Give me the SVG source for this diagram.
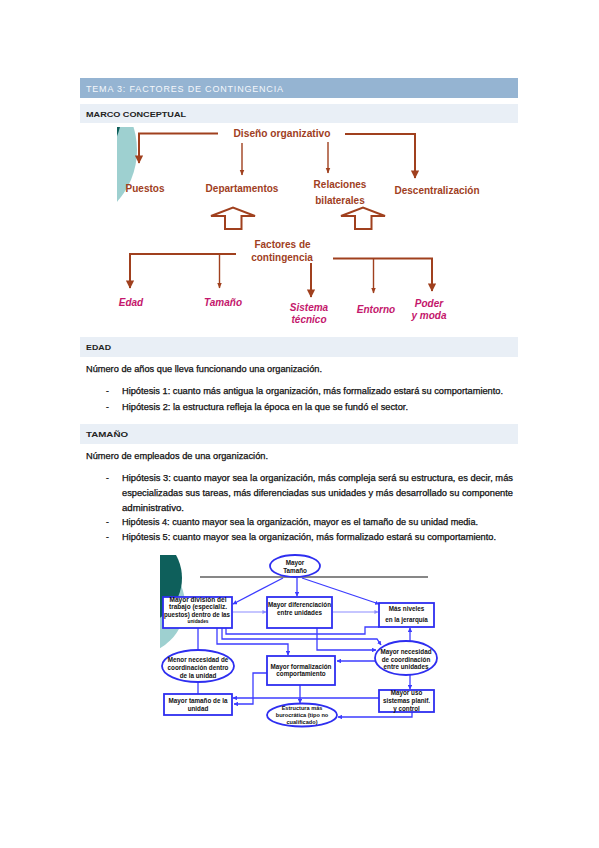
<svg xmlns="http://www.w3.org/2000/svg" width="599" height="848" viewBox="0 0 599 848">
<style>
.hdr{font-family:"Liberation Sans",Arial,sans-serif;font-size:9px;fill:#F4F7FB}
.sec{font-family:"Liberation Sans",Arial,sans-serif;font-size:8px;font-weight:bold;fill:#222}
.body{font-family:"Liberation Sans",Arial,sans-serif;font-size:8.6px;fill:#111;stroke:#111;stroke-width:0.25}
.lbl{font-family:"Liberation Sans",Arial,sans-serif;font-size:10px;font-weight:bold;fill:#A0401E;text-anchor:middle}
.fac{font-family:"Liberation Sans",Arial,sans-serif;font-size:10px;font-weight:bold;font-style:italic;fill:#C4176C;text-anchor:middle}
.br{fill:none;stroke:#A0401E}
.thick{stroke-width:2}
.thin{stroke-width:1.4}
.hollow{fill:#fff;stroke:#A0401E;stroke-width:2;stroke-linejoin:miter}
.nb{fill:#fff;stroke:#2E2EF0;stroke-width:1.8}
.nt{font-family:"Liberation Sans",Arial,sans-serif;font-size:6.3px;font-weight:bold;fill:#111;text-anchor:middle}
.bl{fill:none;stroke:#3C3CFF;stroke-width:1.3}
.lt{fill:none;stroke:#8C8CFF;stroke-width:1.1}
</style>
<defs>
<marker id="ab" viewBox="0 0 10 10" refX="9" refY="5" markerWidth="4.2" markerHeight="4.2" orient="auto" markerUnits="strokeWidth"><path d="M0,0 L10,5 L0,10 z" fill="#A0401E"/></marker>
<marker id="abs" viewBox="0 0 10 10" refX="9" refY="5" markerWidth="4.2" markerHeight="4.2" orient="auto" markerUnits="strokeWidth"><path d="M0,1 L10,5 L0,9 z" fill="#A0401E"/></marker>
<marker id="bb" viewBox="0 0 10 10" refX="9" refY="5" markerWidth="3.4" markerHeight="3.4" orient="auto" markerUnits="strokeWidth"><path d="M0,0 L10,5 L0,10 z" fill="#3C3CFF"/></marker>
<marker id="bl2" viewBox="0 0 10 10" refX="9" refY="5" markerWidth="3.6" markerHeight="3.6" orient="auto" markerUnits="strokeWidth"><path d="M0,0 L10,5 L0,10 z" fill="#8C8CFF"/></marker>
<clipPath id="c1"><rect x="117" y="127" width="40" height="90"/></clipPath>
<clipPath id="c2"><rect x="160" y="555" width="40" height="100"/></clipPath>
</defs>
<rect width="599" height="848" fill="#fff"/>

<!-- headers -->
<rect x="80" y="78" width="438" height="20" fill="#95B4D2"/>
<text class="hdr" x="86" y="91.5" textLength="197" lengthAdjust="spacing">TEMA 3: FACTORES DE CONTINGENCIA</text>
<rect x="80" y="104" width="438" height="19" fill="#E9EFF6"/>
<text class="sec" x="86" y="116.5" textLength="100" lengthAdjust="spacingAndGlyphs">MARCO CONCEPTUAL</text>

<!-- decoration 1 -->
<g clip-path="url(#c1)">
<circle cx="60" cy="150" r="77" fill="#9ED0D0"/>
<circle cx="50" cy="110" r="72" fill="#0E5F5B"/>
</g>

<!-- diagram 1 connectors -->
<g id="connectors1">
<polyline class="br thick" points="218,133.5 139,133.5 139,163" marker-end="url(#ab)"/>
<line class="br thin" x1="242" y1="143" x2="242" y2="175" marker-end="url(#abs)"/>
<line class="br thin" x1="328" y1="142" x2="328" y2="173" marker-end="url(#abs)"/>
<polyline class="br thick" points="345,134 415,134 415,178" marker-end="url(#ab)"/>
<polygon class="hollow" points="225,229 225,216 211,216 233,207.5 255,216 241.5,216 241.5,229"/>
<polygon class="hollow" points="355,229 355,216 341,216 363,207.5 385,216 371.5,216 371.5,229"/>
<polyline class="br thick" points="236,254 130,254 130,288" marker-end="url(#ab)"/>
<line class="br thin" x1="219.5" y1="254" x2="219.5" y2="288" marker-end="url(#abs)"/>
<line class="br thick" x1="311" y1="263" x2="311" y2="297" marker-end="url(#ab)"/>
<polyline class="br thick" points="333,258.5 432,258.5 432,291" marker-end="url(#ab)"/>
<line class="br thin" x1="373.5" y1="258.5" x2="373.5" y2="293" marker-end="url(#abs)"/>
</g>

<!-- diagram 1 nodes -->
<g id="n-diseno"><text class="lbl" x="282" y="137" textLength="97" lengthAdjust="spacingAndGlyphs">Diseño organizativo</text></g>
<g id="n-puestos"><text class="lbl" x="145" y="192">Puestos</text></g>
<g id="n-departamentos"><text class="lbl" x="242" y="192">Departamentos</text></g>
<g id="n-relaciones"><text class="lbl" x="340" y="188">Relaciones</text><text class="lbl" x="340" y="204">bilaterales</text></g>
<g id="n-descentralizacion"><text class="lbl" x="437" y="194">Descentralización</text></g>
<g id="n-factores"><text class="lbl" x="282.5" y="248">Factores de</text><text class="lbl" x="282" y="260.5">contingencia</text></g>
<g id="n-edad"><text class="fac" x="131" y="306">Edad</text></g>
<g id="n-tamano"><text class="fac" x="223" y="306">Tamaño</text></g>
<g id="n-sistema"><text class="fac" x="309" y="311">Sistema</text><text class="fac" x="309" y="323">técnico</text></g>
<g id="n-entorno"><text class="fac" x="376" y="313">Entorno</text></g>
<g id="n-poder"><text class="fac" x="429" y="307">Poder</text><text class="fac" x="429" y="319">y moda</text></g>

<!-- EDAD -->
<rect x="80" y="337" width="438" height="20" fill="#E9EFF6"/>
<text class="sec" x="86" y="350" textLength="25" lengthAdjust="spacingAndGlyphs">EDAD</text>
<text class="body" x="86" y="372" textLength="236" lengthAdjust="spacingAndGlyphs">Número de años que lleva funcionando una organización.</text>
<text class="body" x="106" y="394">-</text>
<text class="body" x="122" y="394" textLength="381" lengthAdjust="spacingAndGlyphs">Hipótesis 1: cuanto más antigua la organización, más formalizado estará su comportamiento.</text>
<text class="body" x="106" y="410">-</text>
<text class="body" x="122" y="410" textLength="286" lengthAdjust="spacingAndGlyphs">Hipótesis 2: la estructura refleja la época en la que se fundó el sector.</text>

<!-- TAMAÑO -->
<rect x="80" y="424" width="438" height="20" fill="#E9EFF6"/>
<text class="sec" x="86" y="437" textLength="42" lengthAdjust="spacingAndGlyphs">TAMAÑO</text>
<text class="body" x="86" y="459" textLength="182" lengthAdjust="spacingAndGlyphs">Número de empleados de una organización.</text>
<text class="body" x="106" y="481">-</text>
<text class="body" x="122" y="481" textLength="391" lengthAdjust="spacingAndGlyphs">Hipótesis 3: cuanto mayor sea la organización, más compleja será su estructura, es decir, más</text>
<text class="body" x="122" y="496" textLength="391" lengthAdjust="spacingAndGlyphs">especializadas sus tareas, más diferenciadas sus unidades y más desarrollado su componente</text>
<text class="body" x="122" y="511" textLength="62" lengthAdjust="spacingAndGlyphs">administrativo.</text>
<text class="body" x="106" y="525">-</text>
<text class="body" x="122" y="525" textLength="356" lengthAdjust="spacingAndGlyphs">Hipótesis 4: cuanto mayor sea la organización, mayor es el tamaño de su unidad media.</text>
<text class="body" x="106" y="540">-</text>
<text class="body" x="122" y="540" textLength="374" lengthAdjust="spacingAndGlyphs">Hipótesis 5: cuanto mayor sea la organización, más formalizado estará su comportamiento.</text>

<!-- decoration 2 -->
<g clip-path="url(#c2)">
<circle cx="135" cy="605" r="50" fill="#9ED0D0"/>
<circle cx="135" cy="578" r="47" fill="#0E5F5B"/>
</g>

<line x1="200" y1="577" x2="428" y2="577" stroke="#111" stroke-width="1.2"/>

<!-- diagram 2 connectors -->
<g id="connectors2">
<line class="bl" x1="283" y1="578" x2="233" y2="604" marker-end="url(#bb)"/>
<line class="bl" x1="297" y1="578" x2="297" y2="596" marker-end="url(#bb)"/>
<line class="bl" x1="302" y1="578" x2="379" y2="604" marker-end="url(#bb)"/>
<line class="lt" x1="233" y1="612" x2="266" y2="612" marker-end="url(#bl2)"/>
<line class="lt" x1="333" y1="612" x2="378" y2="612" marker-end="url(#bl2)"/>
<line class="bl" x1="198" y1="628" x2="198" y2="650"/>
<polyline class="bl" points="217,628 217,644 288,644 288,655" marker-end="url(#bb)"/>
<polyline class="bl" points="222,628 222,639 377,639 381,645" marker-end="url(#bb)"/>
<polyline class="bl" points="226,628 226,634 365,634 365,627 379,627"/>
<polyline class="bl" points="317,628 317,650 376,650" marker-end="url(#bb)"/>
<line class="bl" x1="410" y1="641" x2="410" y2="628" marker-end="url(#bb)"/>
<line class="bl" x1="375" y1="661" x2="337" y2="661" marker-end="url(#bb)"/>
<line class="bl" x1="410" y1="675" x2="410" y2="689" marker-end="url(#bb)"/>
<line class="bl" x1="379" y1="698" x2="233" y2="698" marker-end="url(#bb)"/>
<polyline class="bl" points="267,673 253,673 253,704 234,704" marker-end="url(#bb)"/>
<line class="bl" x1="300" y1="685" x2="300" y2="703" marker-end="url(#bb)"/>
<line class="bl" x1="198" y1="682" x2="198" y2="694"/>
<polyline class="bl" points="412,712 412,717 338,717" marker-end="url(#bb)"/>
</g>

<!-- diagram 2 nodes -->
<g id="n-mayor-tamano">
<ellipse class="nb" cx="295" cy="566" rx="25" ry="11"/>
<text class="nt" x="295" y="565">Mayor</text><text class="nt" x="295" y="572.5">Tamaño</text>
</g>
<g id="n-division">
<rect class="nb" x="163" y="597" width="69" height="31"/>
<text class="nt" x="198" y="602" textLength="57" lengthAdjust="spacingAndGlyphs">Mayor división del</text>
<text class="nt" x="198" y="609" textLength="58" lengthAdjust="spacingAndGlyphs">trabajo (especializ.</text>
<text class="nt" x="197" y="616.5" textLength="66" lengthAdjust="spacingAndGlyphs">puestos) dentro de las</text>
<text class="nt" x="198" y="623" style="font-size:4.8px">unidades</text>
</g>
<g id="n-diferenciacion">
<rect class="nb" x="267" y="597" width="65" height="31"/>
<text class="nt" x="299.5" y="607">Mayor diferenciación</text>
<text class="nt" x="299.5" y="614.5">entre unidades</text>
</g>
<g id="n-niveles">
<rect class="nb" x="379" y="603" width="55" height="24"/>
<text class="nt" x="406.5" y="611">Más niveles</text>
<text class="nt" x="406.5" y="622">en la jerarquía</text>
</g>
<g id="n-coord-entre">
<ellipse class="nb" cx="406" cy="658" rx="31" ry="17"/>
<text class="nt" x="406" y="654">Mayor necesidad</text>
<text class="nt" x="406" y="661.5">de coordinación</text>
<text class="nt" x="406" y="669">entre unidades</text>
</g>
<g id="n-formalizacion">
<rect class="nb" x="267" y="656" width="68" height="29"/>
<text class="nt" x="301" y="668.5">Mayor formalización</text>
<text class="nt" x="301" y="676">comportamiento</text>
</g>
<g id="n-coord-dentro">
<ellipse class="nb" cx="198" cy="666" rx="36" ry="16"/>
<text class="nt" x="198" y="662">Menor necesidad de</text>
<text class="nt" x="198" y="669.5">coordinación dentro</text>
<text class="nt" x="198" y="677.5">de la unidad</text>
</g>
<g id="n-tamano-unidad">
<rect class="nb" x="164" y="694" width="68" height="21"/>
<text class="nt" x="198" y="702.5">Mayor tamaño de la</text>
<text class="nt" x="198" y="711">unidad</text>
</g>
<g id="n-burocratica">
<ellipse class="nb" cx="302" cy="715" rx="35" ry="11.5"/>
<text class="nt" x="302" y="710" style="font-size:5.6px">Estructura más</text>
<text class="nt" x="302" y="717" style="font-size:5.6px">burocrática (tipo no</text>
<text class="nt" x="302" y="724" style="font-size:5.6px">cualificado)</text>
</g>
<g id="n-planif">
<rect class="nb" x="379" y="690" width="55" height="22"/>
<text class="nt" x="406.5" y="695">Mayor uso</text>
<text class="nt" x="406.5" y="703">sistemas planif.</text>
<text class="nt" x="406.5" y="711">y control</text>
</g>
</svg>
